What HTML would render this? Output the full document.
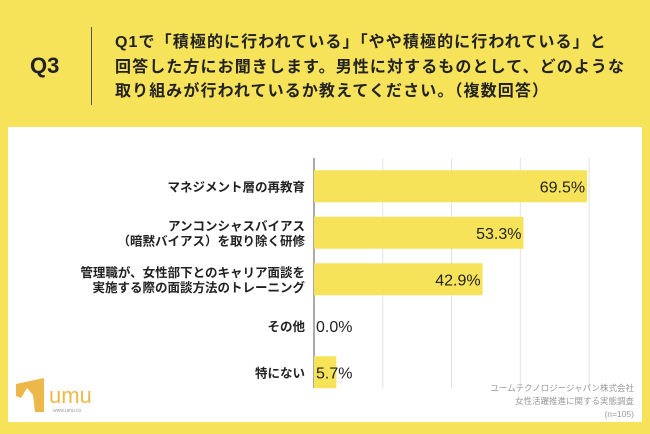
<!DOCTYPE html>
<html><head><meta charset="utf-8">
<style>
body{margin:0;width:650px;height:434px;background:#F6E35A;position:relative;overflow:hidden;font-family:"Liberation Sans","Noto Sans CJK JP",sans-serif;}
#q{position:absolute;left:30px;top:53px;font-size:22px;font-weight:bold;color:#222;}
#vl{position:absolute;left:91px;top:27px;width:1px;height:78px;background:#555;}
#title{position:absolute;left:115px;top:31px;font-size:16px;letter-spacing:1.1px;font-weight:bold;line-height:24.5px;color:#222;white-space:nowrap;}
#panel{position:absolute;left:8px;top:127px;width:634px;height:295px;background:#fff;}
svg{position:absolute;left:0;top:0;}
</style></head><body>
<div id="q">Q3</div>
<div id="vl"></div>
<div id="title">Q1で「積極的に行われている」「やや積極的に行われている」と<br>回答した方にお聞きします。男性に対するものとして、どのような<br>取り組みが行われているか教えてください。（複数回答）</div>
<div id="panel"></div>
<svg id="chart" width="650" height="434"></svg>
<script>
const categories=[["マネジメント層の再教育"],["アンコンシャスバイアス","（暗黙バイアス）を取り除く研修"],["管理職が、女性部下とのキャリア面談を","実施する際の面談方法のトレーニング"],["その他"],["特にない"]];
const values=[69.5,53.3,42.9,0.0,5.7];
const valueLabels=["69.5%","53.3%","42.9%","0.0%","5.7%"];
const gridTicks=[0,17.5,35,52.5,70];
const NS="http://www.w3.org/2000/svg";
const svg=document.getElementById('chart');
const x0=314,pxPer=3.93,yTop=163,rowH=46.5,barH=32;
const xs=v=>x0+v*pxPer;
const yc=i=>yTop+rowH*i+rowH/2;
function mk(t,a){const e=document.createElementNS(NS,t);for(const k in a)e.setAttribute(k,a[k]);svg.appendChild(e);return e;}
gridTicks.forEach((t,i)=>{const g=mk('line',{x1:xs(t),x2:xs(t),y1:158,y2:388,stroke:i==0?'#555':'#e2e2e2','stroke-width':1});

});
values.forEach((v,i)=>{
const r=mk('rect',{x:x0,y:yc(i)-barH/2,width:v*pxPer,height:barH,fill:'#F6E35A'});


const inside=v*pxPer>50;
const t=mk('text',{x:inside?xs(v)-2:x0+2,y:yc(i)+6,'text-anchor':inside?'end':'start','font-size':16,fill:'#222'});
t.textContent=valueLabels[i];


const lines=categories[i];
lines.forEach((s,j)=>{const c=mk('text',{x:305,y:yc(i)+5+(j-(lines.length-1)/2)*15,'text-anchor':'end','font-size':12.5,'font-weight':'bold',fill:'#222'});
c.textContent=s;

});
});
[["ユームテクノロジージャパン株式会社",391],["女性活躍推進に関する実態調査",404],["(n=105)",417]].forEach(([s,y])=>{const t=mk('text',{x:634,y:y,'text-anchor':'end','font-size':8.5,fill:'#999'});t.textContent=s;

});
const lg=mk('g',{});


lg.innerHTML='<path d="M16 384 L44 378 L44 412 L35 412 L33 395 L27 388 L21 398 L16 396 Z" fill="#EDB84A"/><text x="49" y="403" font-size="22" fill="#EDB84A" font-family="Liberation Sans">umu</text><text x="53" y="412" font-size="5" fill="#999">www.umu.co</text>';
</script>
</body></html>
